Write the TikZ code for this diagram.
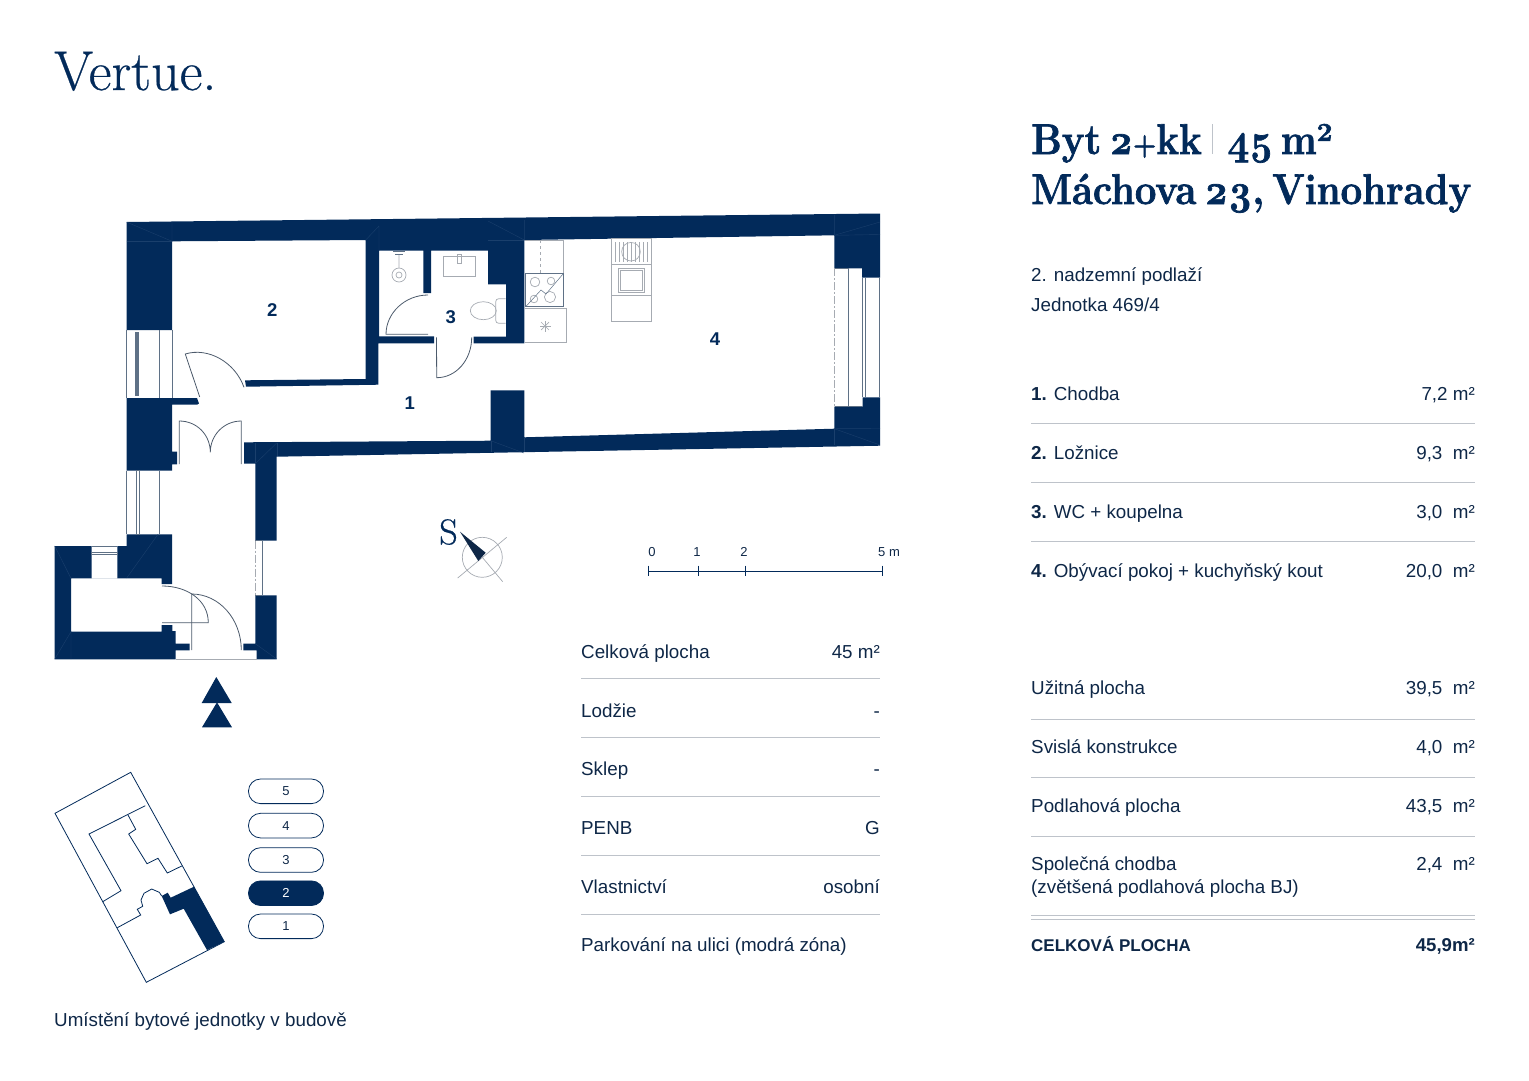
\documentclass[tikz,border=0pt]{standalone}
\usepackage{fontspec}
\setmainfont{Liberation Sans}
\newfontfamily\titlefont[FakeBold=0.5]{Latin Modern Roman}
\newfontfamily\headfont[Numbers=OldStyle,FakeStretch=0.89,FakeBold=1.6,WordSpace=0.55]{Latin Modern Roman}
\usetikzlibrary{positioning}
\definecolor{navy}{HTML}{022A5A}
\definecolor{inktext}{HTML}{0E2747}
\definecolor{rulegray}{HTML}{BEC3CA}
\definecolor{slate}{HTML}{5F7186}
\definecolor{fixture}{HTML}{A6ABB2}
\definecolor{wallseam}{HTML}{1A3F6C}
\tikzset{
  wall/.style={fill=navy,draw=none},
  seam/.style={draw=wallseam,line width=0.4pt},
  thinline/.style={draw=slate,line width=0.7pt},
  doorline/.style={draw=slate!80!black,line width=0.8pt},
  furn/.style={draw=fixture,line width=0.7pt},
  hairline/.style={draw=rulegray,line width=0.7pt},
  txt/.style={inner sep=0pt,anchor=base west,text=inktext,font=\fontsize{18.8}{22}\selectfont},
  txtr/.style={txt,anchor=base east},
  boldtxt/.style={font=\fontsize{17}{22}\selectfont\bfseries},
  roomno/.style={inner sep=0pt,text=navy,font=\fontsize{18.5}{22}\selectfont\bfseries},
  small/.style={inner sep=0pt,text=inktext,font=\fontsize{13}{15}\selectfont},
  floorbox/.style={draw=navy,line width=0.8pt,rounded corners=12pt,minimum width=75pt,minimum height=24.6pt,inner sep=0pt,text=inktext,font=\fontsize{13}{15}\selectfont},
  headline/.style={inner sep=0pt,anchor=base west,text=navy,font=\headfont\bfseries\fontsize{43}{50}\selectfont},
}
\begin{document}
\begin{tikzpicture}[x=1pt,y=-1pt]
\useasboundingbox (0,0) rectangle (1529,1080);
% heading
\node[inner sep=0pt,anchor=base west,text=navy,font=\titlefont\fontsize{56}{60}\selectfont] (brand) at (54,90) {Vertue.};
\node[headline] (titlea) at (1031,154) {Byt 2{\fontsize{30}{30}\selectfont+}kk};
\node[headline] (titleb) at (1227,154) {45 m²};
\node[headline] (titlec) at (1031,204) {Máchova 23, Vinohrady};
\draw[hairline] (1212.5,124) -- (1212.5,154);
\node[txt] (floorname) at (1031,281) {2. nadzemní podlaží};
\node[txt] (unitname) at (1031,311) {Jednotka 469/4};
% walls
\fill[wall] (126.5,222) -- (880,213.5) -- (880,277.7) -- (862,277.7) -- (862,268.3) -- (834.3,268.3) -- (834.3,235.3) -- (524.3,240) -- (524.3,343.3) -- (473.7,343.3) -- (473.7,336.7) -- (506,336.7) -- (506,284.3) -- (488,284.3) -- (488,250.7) -- (431,250.7) -- (431,293) -- (423.3,293) -- (423.3,250.7) -- (379,250.7) -- (379,336.3) -- (434,336.3) -- (434,343.3) -- (378.3,343.3) -- (378.3,384.7) -- (246,386.7) -- (245,380.3) -- (365.7,379) -- (365.7,240) -- (172,241.3) -- (172,330) -- (126.5,330) -- cycle;
\fill[wall] (862.7,397.3) -- (880,397.3) -- (880,445.7) -- (276.7,456.7) -- (276.7,540.7) -- (255.3,540.7) -- (255.3,463.7) -- (244,463.7) -- (244,442.3) -- (490.7,440.7) -- (490.7,390.3) -- (524.3,390.3) -- (524.3,437.3) -- (834.3,428.7) -- (834.3,406.7) -- (862.7,406.7) -- cycle;
\fill[wall] (126.7,398) -- (197,398) -- (199,403.5) -- (197,404.7) -- (172,404.7) -- (172,451.7) -- (177,451.7) -- (177,464.3) -- (172,464.3) -- (172,470.7) -- (126.7,470.7) -- cycle;
\fill[wall] (126.7,534.3) -- (172,534.3) -- (172,584) -- (161.7,584) -- (161.7,578.3) -- (71,578.3) -- (71,631.7) -- (161.7,631.7) -- (161.7,625) -- (172.3,625) -- (172.3,631) -- (175.7,631) -- (175.7,643.7) -- (189.7,643.7) -- (189.7,650.3) -- (175.7,650.3) -- (175.7,659.3) -- (54.7,659.3) -- (54.7,546) -- (91.7,546) -- (91.7,578.3) -- (117.3,578.3) -- (117.3,546) -- (126.7,546) -- cycle;
\fill[wall] (255.3,595.3) -- (276.7,595.3) -- (276.7,659.3) -- (256.7,659.3) -- (256.7,650.3) -- (243.3,650.3) -- (243.3,643.7) -- (255.3,643.7) -- cycle;
% seams in the wall corners
\draw[seam] (126.5,222) -- (172,241.3) -- (172,222);
\draw[seam] (126.5,241.3) -- (172,241.3);
\draw[seam] (365.7,240) -- (379,226) -- (379,250.7);
\draw[seam] (488,221) -- (524.3,240) -- (524.3,220);
\draw[seam] (488,240) -- (524.3,240);
\draw[seam] (834.3,235.3) -- (880,222);
\draw[seam] (834.3,215) -- (834.3,235.3) -- (880,234.5);
\draw[seam] (834.3,428.7) -- (880,445);
\draw[seam] (834.3,428.7) -- (834.3,445) ;
\draw[seam] (834.3,428.7) -- (880,428.5);
\draw[seam] (490.7,440.7) -- (524,453);
\draw[seam] (490.7,440.7) -- (490.7,452);
\draw[seam] (524.3,437.3) -- (524.3,452);
\draw[seam] (255.3,463.7) -- (276.7,443);
\draw[seam] (255.3,443) -- (255.3,463.7);
\draw[seam] (276.7,443) -- (276.7,456);
\draw[seam] (126.7,578) -- (158,534.3);
\draw[seam] (54.7,659) -- (71,631.7) -- (71,659);
\draw[seam] (54.7,546) -- (71,578.3);
\draw[seam] (255.3,643.7) -- (276.7,659);
% windows
\draw[thinline] (126.7,330) -- (126.7,398) (159,330) -- (159,398) (172,330) -- (172,398);
\fill[slate] (135,332) rectangle (139,396);
\draw[thinline] (126.7,470.7) -- (126.7,534.3) (159.3,470.7) -- (159.3,534.3);
\draw[thinline] (136.3,470.7) rectangle (139.7,534.3);
\draw[thinline] (91.7,546) -- (117.3,546) (91.7,552) rectangle (117.3,554.7);
\draw[thinline] (848.7,268.3) -- (848.7,406.7) (862.3,277.7) -- (862.3,397.3) (865.7,277.7) -- (865.7,397.3) (879.3,277.7) -- (879.3,397.3);
\draw[thinline] (834.5,268.3) -- (848.7,268.3) (834.5,406.7) -- (862.3,406.7);
\draw[furn,dash pattern=on 8pt off 2pt on 2pt off 2pt] (834.7,268.3) -- (834.7,406.7);
\draw[thinline] (262.3,540.7) -- (262.3,595.3) (255.3,540.7) -- (262.3,540.7) (255.3,595.3) -- (262.3,595.3);
\draw[furn,dash pattern=on 8pt off 2pt on 2pt off 2pt] (255.7,540.7) -- (255.7,595.3);
% doors
\draw[doorline] (199.7,397) -- (185.3,354) .. controls (208,347) and (235,362) .. (244,387.3);
\draw[doorline] (179.3,464) -- (179.3,421) .. controls (197,421) and (210.3,435) .. (210.3,452.3) .. controls (210.3,435) and (224,421) .. (241.3,421) -- (241.3,464);
\draw[doorline] (428,334.3) -- (386,334.3) .. controls (386,313) and (405,295) .. (428,295);
\draw[doorline] (436.5,337.3) -- (436.7,377.7) .. controls (456,377.7) and (471.7,360) .. (471.7,337.3);
\draw[doorline] (162,622.7) -- (208.3,622.7) .. controls (208.3,600) and (187,586) .. (162,586);
\draw[doorline] (191.7,650) -- (191.7,594) .. controls (219,594) and (241.3,619) .. (241.3,650);
\draw[furn] (175.7,659) -- (256.7,659);
% kitchen
\draw[furn] (525,240) -- (563.3,240) -- (563.3,273.3) (525,342.7) -- (566.3,342.7) -- (566.3,308.7) -- (525,308.7);
\draw[furn,dashed] (540.7,240) -- (540.7,273);
\draw[slate,line width=0.7pt] (525.7,273.3) rectangle (563,306.7);
\foreach \x/\y/\r in {535/282/4.8,551/281/3.8,534/299/3.8,550/297/5.6} {
\draw[furn] (\x,\y) circle (\r pt);
}
\draw[slate,line width=0.5pt] (525.7,306.7) -- (541,290) -- (546,294) -- (563,274);
\foreach \a in {0,45,...,135} {
\draw[furn] (545,326) ++(\a:5.5) -- ++(\a+180:11);
}
\draw[furn] (611.3,238) rectangle (651,321.7) (611.3,264) -- (651,264) (611.3,295) -- (651,295);
\draw[furn] (618.3,268) rectangle (644,292.7) (620,270) rectangle (642,290);
\draw[furn] (631,251.7) circle (9.3pt);
\foreach \x in {615,619,...,647} {
\draw[furn,line width=0.4pt] (\x,242) -- (\x,262);
}
% bathroom
\draw[furn] (399,275) circle (7pt) (399,275) circle (3pt) (399,268) -- (399,254);
\draw[slate,line width=0.5pt] (393,251) -- (405,251) (395,254) -- (403,254);
\draw[furn] (443.3,256.7) rectangle (475.7,276.7) (457.5,254) rectangle (461,263);
\draw[furn] (483.3,310.7) ellipse (13pt and 9pt);
\draw[furn,rounded corners=3pt] (505.7,298.7) -- (495.7,298.7) -- (495.7,323.3) -- (505.7,323.3);
% room numbers
\node[roomno] (roomtwo) at (272.3,310.5) {2};
\node[roomno] (roomthree) at (450.7,317.5) {3};
\node[roomno] (roomone) at (409.7,403) {1};
\node[roomno] (roomfour) at (715,339) {4};
% entrance marks
\fill[navy] (216.3,677) -- (231.7,703) -- (201.7,703) -- cycle;
\fill[navy] (217,702.3) -- (232,727.3) -- (202,727.3) -- cycle;
% compass
\draw[fixture,line width=0.7pt] (482.3,557.3) circle (20pt) (457.7,578) -- (506.7,537.3) (482.3,557.3) -- (502.7,581.7);
\fill[inktext] (460,531.7) -- (485.7,552.7) -- (478.3,561) -- cycle;
\node[inner sep=0pt,text=navy,font=\titlefont\fontsize{36}{40}\selectfont] (northmark) at (448.5,532) {S};
% scale bar
\draw[navy,line width=0.9pt] (648.5,571) -- (882,571);
\foreach \x in {648.5,698,745,882} {
\draw[navy,line width=0.9pt] (\x,565.5) -- (\x,576);
}
\node[small] (scalezero) at (652,552) {0};
\node[small] (scaleone) at (697,552) {1};
\node[small] (scaletwo) at (744,552) {2};
\node[small] (scalefive) at (889,552) {5 m};
% building key
\draw[navy,line width=0.8pt] (55,813.3) -- (130.7,772.3) -- (224.3,941.7) -- (146.3,982.3) -- cycle;
\draw[navy,line width=0.8pt] (145.3,805.7) -- (89,834) -- (121,890.7) -- (102.7,901.7);
\draw[navy,line width=0.8pt] (128,815) -- (135.7,829.3) -- (128.7,834) -- (147,863.7) -- (158,858.3) -- (167.3,873) -- (181.7,866);
\draw[navy,line width=0.8pt] (117.3,927.7) -- (140.7,915) -- (137.3,909.3) -- (142.7,906.3) -- (141,900) -- (144,893.3) -- (151.7,889) -- (159.3,892.3) -- (161.7,896);
\fill[wall] (161.7,896) -- (167.7,892.7) -- (170.7,897.7) -- (194,886.7) -- (224.3,941.7) -- (207,950) -- (183.7,908.7) -- (170,914.3) -- cycle;
\foreach \n/\y in {5/791.3,4/825.6,3/860,1/926.3} {
\node[floorbox] (floor\n) at (286,\y) {\n};
}
\node[floorbox,fill=navy,text=white] (floor2) at (286,893.2) {2};
\node[txt] (keyname) at (54,1026) {Umístění bytové jednotky v budově};
% middle table
\foreach \y/\a/\b in {652/{Celková plocha}/{45 m²},710.5/{Lodžie}/{-},769/{Sklep}/{-},828/{PENB}/{G},887/{Vlastnictví}/{osobní}} {
\node[txt] (summary\y) at (581,\y+6.5) {\a};
\node[txtr] (summaryval\y) at (880,\y+6.5) {\b};
}
\node[txt] (parking) at (581,951.5) {Parkování na ulici (modrá zóna)};
\foreach \y in {678,737,796,855,914} {
\draw[hairline] (581,\y) -- (880,\y);
}
% right tables
\foreach \y/\a/\b in {394/{\textbf{1.} Chodba}/{7,2 m²},453/{\textbf{2.} Ložnice}/{9,3\ \ m²},512/{\textbf{3.} WC + koupelna}/{3,0\ \ m²},570.5/{\textbf{4.} Obývací pokoj + kuchyňský kout}/{20,0\ \ m²},688/{Užitná plocha}/{39,5\ \ m²},746.5/{Svislá konstrukce}/{4,0\ \ m²},805.5/{Podlahová plocha}/{43,5\ \ m²},864/{Společná chodba}/{2,4\ \ m²}} {
\node[txt] (area\y) at (1031,\y+6.5) {\a};
\node[txtr] (areaval\y) at (1475,\y+6.5) {\b};
}
\node[txt] (areanote) at (1031,893.5) {(zvětšená podlahová plocha BJ)};
\node[txt,boldtxt] (total) at (1031,951.5) {CELKOVÁ PLOCHA};
\node[txtr,font=\fontsize{18.6}{22}\selectfont\bfseries] (totalval) at (1475,951.5) {45,9m²};
\foreach \y in {423,482,541,719,777,836,915,919} {
\draw[hairline] (1031,\y) -- (1475,\y);
}
\end{tikzpicture}
\end{document}
